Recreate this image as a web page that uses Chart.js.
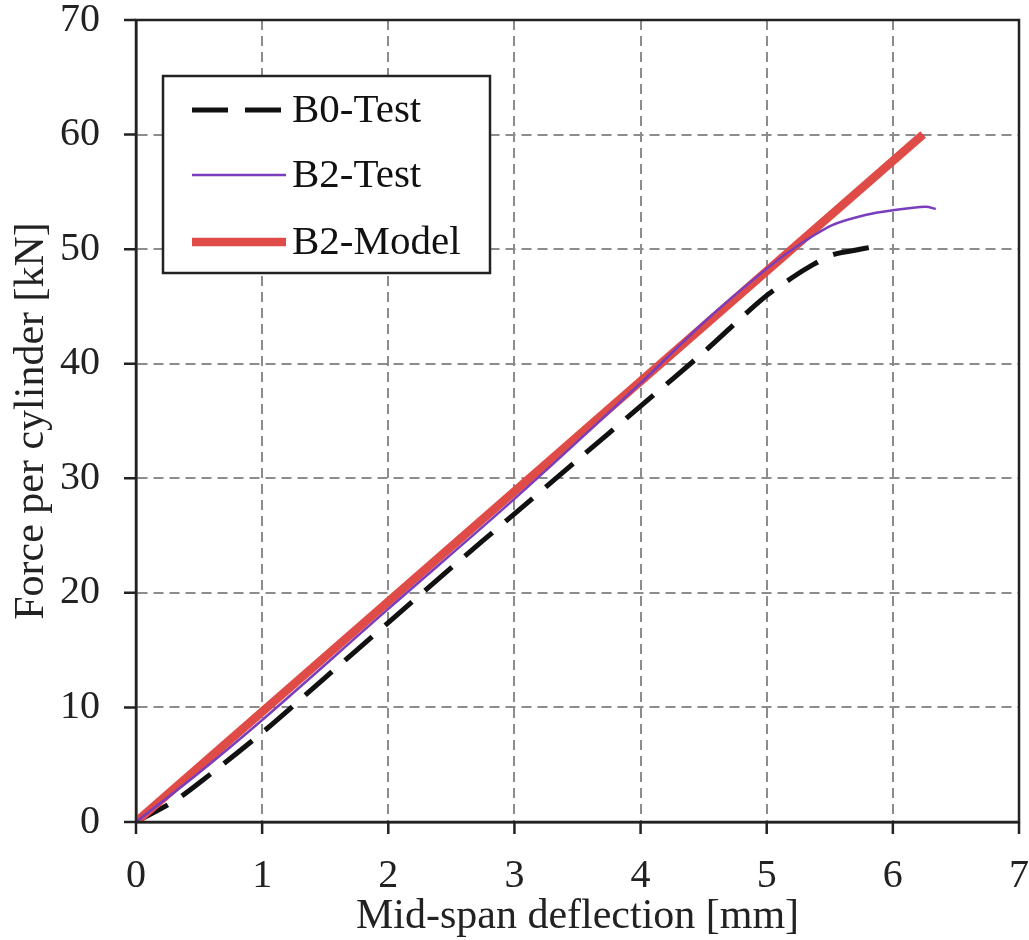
<!DOCTYPE html>
<html>
<head>
<meta charset="utf-8">
<script src="https://cdn.jsdelivr.net/npm/chart.js@4.4.1/dist/chart.umd.min.js"></script>
<style>
  body { margin: 0; background: #fff; }
  canvas { display: block; }
</style>
</head>
<body>
<canvas id="forceChart" width="1029" height="940"></canvas>
<script>
// deflection [mm] / force [kN]
const b0Defl  = [0, 0.3, 0.5, 1.0, 1.5, 2.0, 2.5, 3.0, 3.5, 4.0, 4.5, 4.96, 5.2, 5.36, 5.52, 5.7, 5.84];
const b0Force = [0, 1.8, 3.4, 7.8, 12.6, 17.4, 22.2, 26.9, 31.6, 36.3, 41.0, 45.6, 47.5, 48.6, 49.5, 49.9, 50.2];

const b2Defl  = [0, 0.5, 1.0, 2.0, 3.0, 4.0, 4.5, 5.0, 5.26, 5.52, 5.79, 6.0, 6.26, 6.34];
const b2Force = [0, 4.3, 8.9, 18.6, 28.2, 38.3, 43.6, 48.3, 50.4, 52.1, 53.0, 53.4, 53.7, 53.5];

const modelDefl  = [0, 6.24];
const modelForce = [0, 60];

const xTicks = [0, 1, 2, 3, 4, 5, 6, 7];
const yTicks = [0, 10, 20, 30, 40, 50, 60, 70];

const serif = "'Liberation Serif', 'Times New Roman', serif";
const TICK = 12; // visible tick mark length

function pts(xs, ys) {
  return xs.map((x, i) => ({ x: x, y: ys[i] }));
}

// box around the plot area + short outward tick marks
const frame = {
  id: "frame",
  afterDatasetsDraw(chart) {
    const a = chart.chartArea;
    const ctx = chart.ctx;
    ctx.save();
    ctx.strokeStyle = "#222";
    ctx.lineWidth = 2.5;
    ctx.strokeRect(a.left, a.top, a.right - a.left, a.bottom - a.top);
    ctx.beginPath();
    xTicks.forEach(v => {
      const px = chart.scales.x.getPixelForValue(v);
      ctx.moveTo(px, a.bottom);
      ctx.lineTo(px, a.bottom + TICK);
    });
    yTicks.forEach(v => {
      const py = chart.scales.y.getPixelForValue(v);
      ctx.moveTo(a.left - TICK, py);
      ctx.lineTo(a.left, py);
    });
    ctx.stroke();
    ctx.restore();
  }
};

// legend drawn inside the plot, top-left
const boxLegend = {
  id: "boxLegend",
  afterDraw(chart) {
    const ctx = chart.ctx;
    const x0 = 163, y0 = 76, w = 327, h = 197;
    ctx.save();
    ctx.fillStyle = "#fff";
    ctx.fillRect(x0, y0, w, h);
    ctx.strokeStyle = "#222";
    ctx.lineWidth = 2.5;
    ctx.strokeRect(x0, y0, w, h);
    const rows = [110, 175, 242];
    chart.data.datasets.forEach((ds, i) => {
      const y = rows[i];
      ctx.strokeStyle = ds.borderColor;
      ctx.lineWidth = ds.borderWidth;
      ctx.setLineDash(ds.borderDash || []);
      ctx.lineCap = "butt";
      ctx.beginPath();
      ctx.moveTo(192, y);
      ctx.lineTo(286, y);
      ctx.stroke();
      ctx.setLineDash([]);
      ctx.fillStyle = "#111";
      ctx.font = "41px " + serif;
      ctx.textBaseline = "middle";
      ctx.textAlign = "left";
      ctx.fillText(ds.label, 292, y + 1);
    });
    ctx.restore();
  }
};

function gridOpts(len) {
  return {
    color: "#8c8c8c",
    lineWidth: 2,
    tickColor: "rgba(0,0,0,0)",
    tickLength: len,
    tickBorderDash: []
  };
}

new Chart(document.getElementById("forceChart"), {
  type: "scatter",
  data: {
    datasets: [
      {
        label: "B0-Test",
        data: pts(b0Defl, b0Force),
        showLine: true,
        borderColor: "#111111",
        borderWidth: 5,
        borderDash: [36, 17],
        pointRadius: 0,
        tension: 0.3,
        order: 3
      },
      {
        label: "B2-Test",
        data: pts(b2Defl, b2Force),
        showLine: true,
        borderColor: "#7a3dbd",
        borderWidth: 2.5,
        pointRadius: 0,
        tension: 0.3,
        order: 1
      },
      {
        label: "B2-Model",
        data: pts(modelDefl, modelForce),
        showLine: true,
        borderColor: "#df4c47",
        borderWidth: 8.5,
        pointRadius: 0,
        order: 2
      }
    ]
  },
  options: {
    responsive: false,
    animation: false,
    layout: { padding: { top: 6, right: 0, left: 11, bottom: 2 } },
    plugins: {
      legend: { display: false },
      tooltip: { enabled: false }
    },
    scales: {
      x: {
        type: "linear",
        min: 0,
        max: 7,
        afterBuildTicks: (s) => { s.ticks = xTicks.map(v => ({ value: v })); },
        grid: gridOpts(34),
        border: { display: true, color: "#222", width: 2.5, dash: [10, 6] },
        ticks: { color: "#222", font: { family: serif, size: 40, lineHeight: 1 }, padding: 0, maxRotation: 0 },
        title: {
          display: true,
          text: "Mid-span deflection [mm]",
          color: "#222",
          font: { family: serif, size: 42, lineHeight: 1 },
          padding: { top: 0, bottom: 0 }
        }
      },
      y: {
        type: "linear",
        min: 0,
        max: 70,
        afterBuildTicks: (s) => { s.ticks = yTicks.map(v => ({ value: v })); },
        grid: gridOpts(36),
        border: { display: true, color: "#222", width: 2.5, dash: [10, 6] },
        ticks: { color: "#222", font: { family: serif, size: 40, lineHeight: 1 }, padding: 0 },
        title: {
          display: true,
          text: "Force per cylinder [kN]",
          color: "#222",
          font: { family: serif, size: 42, lineHeight: 1 },
          padding: { top: 0, bottom: 7 }
        }
      }
    }
  },
  plugins: [frame, boxLegend]
});
</script>
</body>
</html>
